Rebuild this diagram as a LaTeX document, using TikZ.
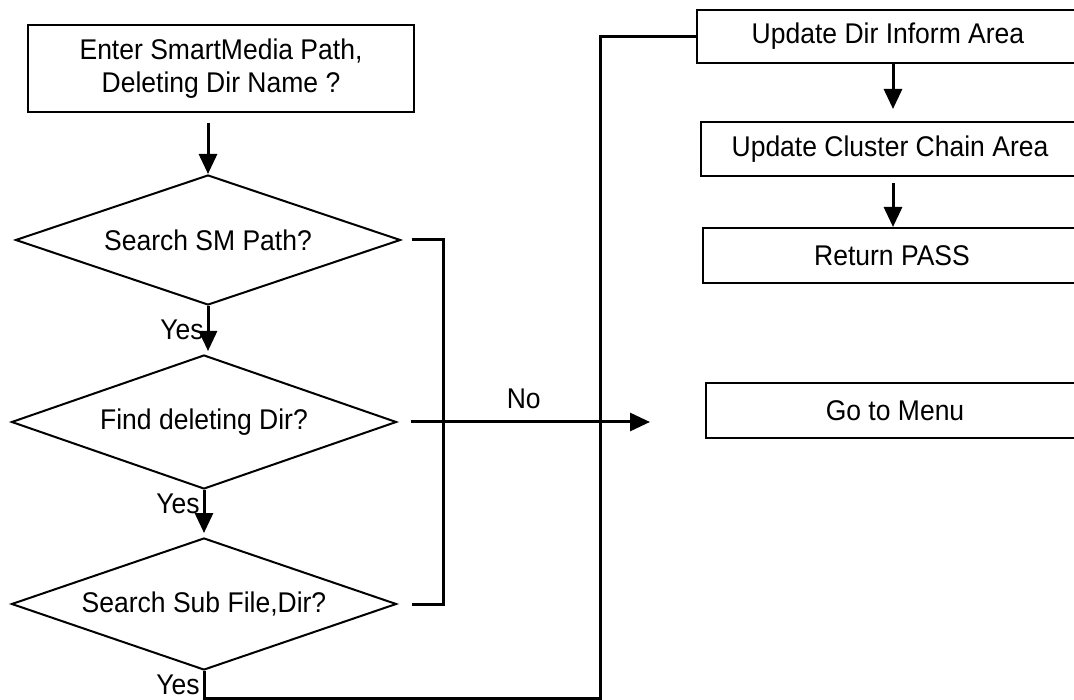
\documentclass[tikz,border=0pt]{standalone}
\usepackage{fontspec}
\setmainfont[FakeStretch=0.93]{Liberation Sans}
\usetikzlibrary{shapes.geometric, arrows.meta, positioning}
\tikzset{
  procbox/.style={draw, line width=2pt, rectangle, minimum height=54pt, inner sep=0pt, align=center},
  decision/.style={draw, line width=2pt, diamond, aspect=3, inner sep=0pt},
  flowline/.style={line width=3pt},
  flowarrow/.style={flowline, -{Triangle[length=20pt,width=18pt]}},
  lbl/.style={inner sep=3pt}
}

\begin{document}
\begin{tikzpicture}[x=1pt, y=-1pt, font=\fontsize{28.5}{33}\selectfont]
  \useasboundingbox (0,0) rectangle (1074,700);
  \clip (0,0) rectangle (1074,700);

  % left column
  \node[procbox, minimum width=386pt, minimum height=87pt] (enter) at (221,68.5) {Enter SmartMedia Path,\\Deleting Dir Name ?};
  \node[decision, minimum width=385pt, minimum height=130pt] (smpath) at (208,240) {Search SM Path?};
  \node[decision, minimum width=385pt, minimum height=134pt] (finddir) at (204,422) {Find deleting Dir?};
  \node[decision, minimum width=385pt, minimum height=132pt] (subfile) at (204,604) {Search Sub File,Dir?};

  % right column
  \node[procbox, minimum width=382pt, minimum height=53pt] (upddir) at (888,36.5) {Update Dir Inform Area};
  \node[procbox, minimum width=378pt] (updchain) at (890,149) {Update Cluster Chain Area};
  \node[procbox, minimum width=378pt, minimum height=55pt] (retpass) at (892,255.5) {Return PASS};
  \node[procbox, minimum width=378pt, minimum height=55pt] (gomenu) at (895,410.5) {Go to Menu};

  \coordinate (loopx) at (443,0);
  \coordinate (busy) at (600,698);
  \coordinate (noend) at (650,422);
  \coordinate (arrx) at (893,0);

  % connectors
  \draw[flowarrow, shorten <=10pt] (enter.south -| smpath.north) -- (smpath.north);
  \draw[flowarrow, shorten >=3pt] (smpath.south) -- (smpath.south |- finddir.north) node[lbl, midway, left] {Yes};
  \draw[flowarrow, shorten >=4pt] (finddir.south) -- (subfile.north) node[lbl, pos=0.3, left] {Yes};
  \draw[flowarrow, shorten <=13pt] (finddir.east) -- (noend) node[lbl, midway, above, yshift=9pt] {No};
  \draw[flowline, shorten <=10pt, shorten >=14pt] (smpath.east) -- (smpath.east -| loopx) -- (subfile.east -| loopx) -- (subfile.east);
  \draw[flowline] (subfile.south) |- node[lbl, pos=0.25, left] {Yes} (busy) |- (upddir.west);
  \draw[flowarrow, shorten >=12pt] (upddir.south -| arrx) -- (updchain.north -| arrx);
  \draw[flowarrow, shorten <=6pt] (updchain.south -| arrx) -- (retpass.north -| arrx);
\end{tikzpicture}
\end{document}
